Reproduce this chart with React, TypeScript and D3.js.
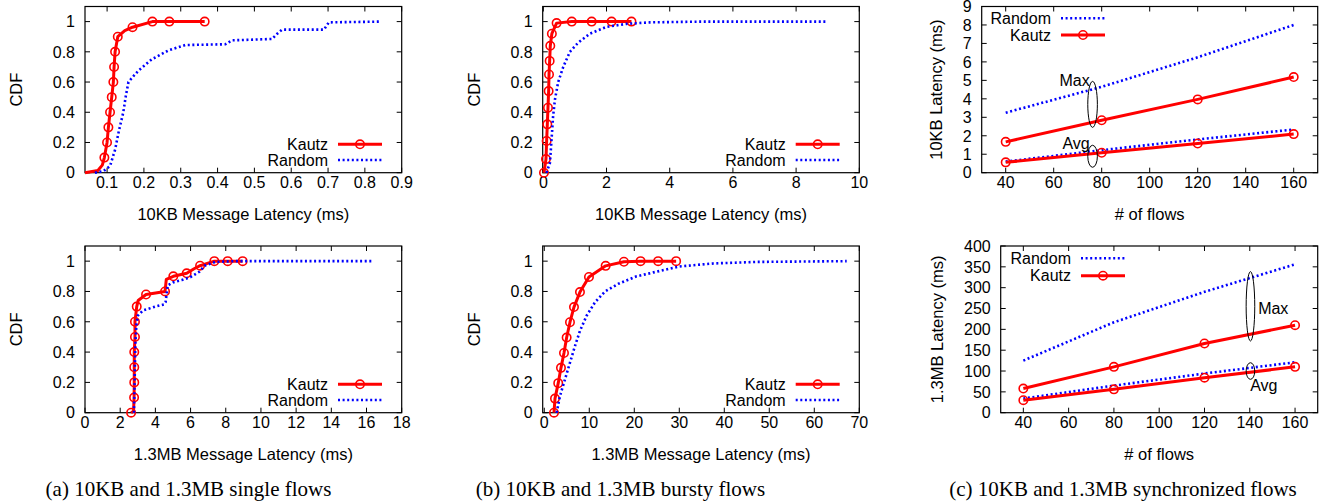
import React from 'react';
import * as d3 from 'd3';

type Pt = [number, number];

// ---------- (a) single flows ----------
// Kautz CDF points carrying a circle marker, plus extra bend points of the line
const singleKautz10KBMarks: Pt[] = [
  [0.0926, 0.1], [0.0999, 0.2], [0.1035, 0.3], [0.108, 0.4], [0.1126, 0.5], [0.117, 0.6],
  [0.119, 0.7], [0.1217, 0.8], [0.129, 0.9], [0.169, 0.963], [0.223, 1], [0.269, 1], [0.365, 1],
];
const singleKautz10KBBends: Pt[] = [[0.04, 0], [0.075, 0.015], [0.087, 0.05], [0.148, 0.94]];
const singleRandom10KB: Pt[] = [
  [0.067, 0], [0.09, 0.01], [0.108, 0.044], [0.122, 0.155], [0.131, 0.265], [0.144, 0.4],
  [0.151, 0.51], [0.158, 0.6], [0.172, 0.64], [0.185, 0.675], [0.221, 0.75], [0.267, 0.81],
  [0.312, 0.845], [0.421, 0.85], [0.439, 0.876], [0.548, 0.885], [0.562, 0.92], [0.575, 0.947],
  [0.689, 0.947], [0.702, 0.995], [0.843, 1],
];
const singleKautz13MBMarks: Pt[] = [
  [2.62, 0], [2.79, 0.1], [2.8, 0.2], [2.8, 0.3], [2.8, 0.4], [2.84, 0.5], [2.84, 0.6],
  [2.94, 0.7], [3.47, 0.78], [4.55, 0.8], [5.02, 0.9], [5.78, 0.92], [6.54, 0.97],
  [7.35, 1], [8.11, 1], [8.96, 1],
];
const singleKautz13MBBends: Pt[] = [[2.76, 0.01], [3.02, 0.74], [4.62, 0.88], [6.2, 0.95]];
const singleRandom13MB: Pt[] = [
  [2.78, 0], [2.82, 0.2], [2.86, 0.45], [2.92, 0.58], [3.0, 0.64], [3.3, 0.675], [4.0, 0.7],
  [4.5, 0.715], [4.58, 0.73], [4.7, 0.84], [5.0, 0.86], [5.5, 0.875], [6.0, 0.895],
  [6.5, 0.93], [6.8, 0.97], [7.4, 0.995], [8.5, 1], [16.3, 1],
];

// ---------- (b) bursty flows ----------
const burstyKautz10KBMarks: Pt[] = [
  [0.02, 0], [0.084, 0.09], [0.105, 0.21], [0.126, 0.32], [0.147, 0.43], [0.168, 0.54],
  [0.18, 0.65], [0.2, 0.74], [0.22, 0.84], [0.27, 0.92], [0.42, 0.99], [0.9, 1],
  [1.53, 1], [2.16, 1], [2.79, 1],
];
const burstyKautz10KBBends: Pt[] = [];
const burstyRandom10KB: Pt[] = [
  [0.1, 0], [0.21, 0.066], [0.26, 0.22], [0.31, 0.376], [0.37, 0.487], [0.47, 0.6],
  [0.63, 0.7], [0.84, 0.8], [1.1, 0.86], [1.47, 0.92], [2.0, 0.965], [2.63, 0.985],
  [3.37, 0.995], [5.0, 1], [8.95, 1],
];
const burstyKautz13MBMarks: Pt[] = [
  [2.16, 0], [2.38, 0.093], [3.1, 0.195], [3.71, 0.296], [4.38, 0.394], [4.97, 0.496],
  [5.71, 0.597], [6.6, 0.697], [7.93, 0.796], [9.93, 0.896], [13.64, 0.969], [17.7, 0.996],
  [21.4, 1], [25.3, 1], [29.3, 1],
];
const burstyKautz13MBBends: Pt[] = [];
const burstyRandom13MB: Pt[] = [
  [2.75, 0], [3.49, 0.11], [4.6, 0.22], [5.71, 0.33], [6.82, 0.44], [7.93, 0.54],
  [9.41, 0.64], [11.3, 0.73], [13.5, 0.8], [16.4, 0.85], [20.5, 0.9], [24.9, 0.93],
  [30.1, 0.965], [37.6, 0.985], [47.2, 0.995], [67.2, 1],
];

// ---------- (c) synchronized flows ----------
const flows = [40, 80, 120, 160];
const syncKautz10KBMax = [1.67, 2.84, 3.97, 5.18];
const syncKautz10KBAvg = [0.56, 1.08, 1.58, 2.09];
const syncRandom10KBMax = [3.25, 4.65, 6.25, 8.0];
const syncRandom10KBAvg = [0.6, 1.22, 1.8, 2.34];
const syncKautz13MBMax = [58, 110, 166, 210];
const syncKautz13MBAvg = [30, 56, 84, 110];
const syncRandom13MBMax = [125, 217, 290, 356];
const syncRandom13MBAvg = [34, 65, 94, 121];

// ---------- ticks / labels ----------
const cdfTicks = [0, 0.2, 0.4, 0.6, 0.8, 1];
const singleTicks10KB = [0.1, 0.2, 0.3, 0.4, 0.5, 0.6, 0.7, 0.8, 0.9];
const singleTicks13MB = [0, 2, 4, 6, 8, 10, 12, 14, 16, 18];
const burstyTicks10KB = [0, 2, 4, 6, 8, 10];
const burstyTicks13MB = [0, 10, 20, 30, 40, 50, 60, 70];
const flowTicks = [40, 60, 80, 100, 120, 140, 160];
const syncTicks10KB = [0, 1, 2, 3, 4, 5, 6, 7, 8, 9];
const syncTicks13MB = [0, 50, 100, 150, 200, 250, 300, 350, 400];
const captions = [
  '(a) 10KB and 1.3MB single flows',
  '(b) 10KB and 1.3MB bursty flows',
  '(c) 10KB and 1.3MB synchronized flows',
];

const SANS = '"Liberation Sans", Arial, Helvetica, sans-serif';
const SERIF = '"Liberation Serif", "Times New Roman", serif';
const RED = '#ff0000';
const BLUE = '#0000ff';
const DOTS = '2 2.6';

const zip = (xs: number[], ys: number[]): Pt[] => xs.map((v, i) => [v, ys[i]] as Pt);
const byXY = (pts: Pt[]) => pts.slice().sort((a, b) => a[0] - b[0] || a[1] - b[1]);

interface KSeries { marks: Pt[]; bends: Pt[] }
interface Note { text: string; tx: number; ty: number; anchor: string; ex: number; ey: number; rx: number; ry: number }

interface PanelProps {
  l: number; r: number; t: number; b: number;
  xDomain: [number, number]; yDomain: [number, number];
  xTicks: number[]; yTicks: number[];
  xLabel: string; yLabel: string; yLabelX: number;
  kautz: KSeries[]; random: Pt[][];
  randomFirst: boolean;
  legendRight: number; legendY: [number, number];
  notes?: Note[];
}

function Panel(p: PanelProps) {
  const x = d3.scaleLinear().domain(p.xDomain).range([p.l, p.r]);
  const y = d3.scaleLinear().domain(p.yDomain).range([p.b, p.t]);
  const line = d3.line<Pt>().x(d => x(d[0])).y(d => y(d[1]));
  const tk = 5;

  const kautzEls = p.kautz.map((s, i) => (
    <g key={'k' + i}>
      <path d={line(byXY([...s.marks, ...s.bends])) || ''} fill="none" stroke={RED} strokeWidth={3} strokeLinejoin="round" />
      {s.marks.map((m, j) => (
        <circle key={j} cx={x(m[0])} cy={y(m[1])} r={4.2} fill="none" stroke={RED} strokeWidth={1.6} />
      ))}
    </g>
  ));
  const randomEls = p.random.map((s, i) => (
    <path key={'r' + i} d={line(s) || ''} fill="none" stroke={BLUE} strokeWidth={2.6} strokeDasharray={DOTS} />
  ));

  const lx0 = p.legendRight + 10;
  const lx1 = p.legendRight + 54;
  const kautzY = p.randomFirst ? p.legendY[1] : p.legendY[0];
  const randomY = p.randomFirst ? p.legendY[0] : p.legendY[1];
  const cx = (p.l + p.r) / 2;
  const cy = (p.t + p.b) / 2;

  return (
    <g fontFamily={SANS} fontSize={16} fill="#000">
      <rect x={p.l} y={p.t} width={p.r - p.l} height={p.b - p.t} fill="none" stroke="#000" strokeWidth={1.2} />
      {p.xTicks.map(v => (
        <g key={'x' + v}>
          <line x1={x(v)} x2={x(v)} y1={p.b} y2={p.b - tk} stroke="#000" />
          <line x1={x(v)} x2={x(v)} y1={p.t} y2={p.t + tk} stroke="#000" />
          <text x={x(v)} y={p.b + 15.6} textAnchor="middle">{String(v)}</text>
        </g>
      ))}
      {p.yTicks.map(v => (
        <g key={'y' + v}>
          <line x1={p.l} x2={p.l + tk} y1={y(v)} y2={y(v)} stroke="#000" />
          <line x1={p.r} x2={p.r - tk} y1={y(v)} y2={y(v)} stroke="#000" />
          <text x={p.l - 10} y={y(v)} dy="0.36em" textAnchor="end">{String(v)}</text>
        </g>
      ))}
      <text x={cx} y={p.b + 47} textAnchor="middle" fontSize={16.5}>{p.xLabel}</text>
      <text transform={`translate(${p.yLabelX},${cy}) rotate(-90)`} dy="0.36em" textAnchor="middle" fontSize={16.5}>{p.yLabel}</text>

      {p.randomFirst ? [randomEls, kautzEls] : [kautzEls, randomEls]}

      {(p.notes || []).map((n, i) => (
        <g key={'n' + i}>
          <ellipse cx={x(n.ex)} cy={y(n.ey)} rx={n.rx} ry={n.ry} fill="none" stroke="#000" strokeWidth={1} />
          <text x={x(n.tx)} y={y(n.ty)} dy="0.36em" textAnchor={n.anchor}>{n.text}</text>
        </g>
      ))}

      <text x={p.legendRight} y={kautzY} dy="0.36em" textAnchor="end">Kautz</text>
      <line x1={lx0} x2={lx1} y1={kautzY} y2={kautzY} stroke={RED} strokeWidth={3} />
      <circle cx={(lx0 + lx1) / 2} cy={kautzY} r={4.2} fill="none" stroke={RED} strokeWidth={1.6} />
      <text x={p.legendRight} y={randomY} dy="0.36em" textAnchor="end">Random</text>
      <line x1={lx0} x2={lx1} y1={randomY} y2={randomY} stroke={BLUE} strokeWidth={2.6} strokeDasharray={DOTS} />
    </g>
  );
}

export default function App() {
  const top = { t: 6.5, b: 172.7 };
  const bot = { t: 246, b: 412.7 };
  const colA = { l: 85, r: 401.7 };
  const colB = { l: 542.7, r: 859.3 };

  return (
    <svg width={1344} height={502} viewBox="0 0 1344 502"
      style={{ position: 'absolute', left: 0, top: 0, background: '#fff' }}>
      <rect width={1344} height={502} fill="#fff" />

      <Panel {...top} {...colA} xDomain={[0.04, 0.9]} yDomain={[0, 1.1]}
        xTicks={singleTicks10KB} yTicks={cdfTicks}
        xLabel="10KB Message Latency (ms)" yLabel="CDF" yLabelX={16.3}
        kautz={[{ marks: singleKautz10KBMarks, bends: singleKautz10KBBends }]}
        random={[singleRandom10KB]} randomFirst={false}
        legendRight={328} legendY={[144.3, 160]} />

      <Panel {...bot} {...colA} xDomain={[0, 18]} yDomain={[0, 1.1]}
        xTicks={singleTicks13MB} yTicks={cdfTicks}
        xLabel="1.3MB Message Latency (ms)" yLabel="CDF" yLabelX={16.3}
        kautz={[{ marks: singleKautz13MBMarks, bends: singleKautz13MBBends }]}
        random={[singleRandom13MB]} randomFirst={false}
        legendRight={328} legendY={[384.3, 400]} />

      <Panel {...top} {...colB} xDomain={[-0.02, 10]} yDomain={[0, 1.1]}
        xTicks={burstyTicks10KB} yTicks={cdfTicks}
        xLabel="10KB Message Latency (ms)" yLabel="CDF" yLabelX={474.5}
        kautz={[{ marks: burstyKautz10KBMarks, bends: burstyKautz10KBBends }]}
        random={[burstyRandom10KB]} randomFirst={false}
        legendRight={785.7} legendY={[144.3, 160]} />

      <Panel {...bot} {...colB} xDomain={[-0.35, 70]} yDomain={[0, 1.1]}
        xTicks={burstyTicks13MB} yTicks={cdfTicks}
        xLabel="1.3MB Message Latency (ms)" yLabel="CDF" yLabelX={474.5}
        kautz={[{ marks: burstyKautz13MBMarks, bends: burstyKautz13MBBends }]}
        random={[burstyRandom13MB]} randomFirst={false}
        legendRight={785.7} legendY={[384.3, 400]} />

      <Panel {...top} l={981.7} r={1317.7} xDomain={[30, 170]} yDomain={[0, 9]}
        xTicks={flowTicks} yTicks={syncTicks10KB}
        xLabel="# of flows" yLabel="10KB Latency (ms)" yLabelX={936}
        kautz={[{ marks: zip(flows, syncKautz10KBMax), bends: [] }, { marks: zip(flows, syncKautz10KBAvg), bends: [] }]}
        random={[zip(flows, syncRandom10KBMax), zip(flows, syncRandom10KBAvg)]} randomFirst={true}
        legendRight={1051} legendY={[18.3, 35]}
        notes={[
          { text: 'Max', tx: 75, ty: 5.0, anchor: 'end', ex: 76.2, ey: 3.7, rx: 4.8, ry: 23 },
          { text: 'Avg', tx: 75, ty: 1.6, anchor: 'end', ex: 76.2, ey: 0.89, rx: 4.8, ry: 11 },
        ]} />

      <Panel {...bot} l={1000.7} r={1317.7} xDomain={[30, 170]} yDomain={[0, 400]}
        xTicks={flowTicks} yTicks={syncTicks13MB}
        xLabel="# of flows" yLabel="1.3MB Latency (ms)" yLabelX={936.7}
        kautz={[{ marks: zip(flows, syncKautz13MBMax), bends: [] }, { marks: zip(flows, syncKautz13MBAvg), bends: [] }]}
        random={[zip(flows, syncRandom13MBMax), zip(flows, syncRandom13MBAvg)]} randomFirst={true}
        legendRight={1071} legendY={[258.3, 275.7]}
        notes={[
          { text: 'Max', tx: 143.7, ty: 250.5, anchor: 'start', ex: 140.3, ey: 255.3, rx: 4.3, ry: 34.7 },
          { text: 'Avg', tx: 140.2, ty: 66.5, anchor: 'start', ex: 140.3, ey: 100, rx: 4.3, ry: 8.3 },
        ]} />

      {captions.map((c, i) => (
        <text key={c} x={[188.5, 620.5, 1123][i]} y={495.5} textAnchor="middle"
          fontFamily={SERIF} fontSize={21}>{c}</text>
      ))}
    </svg>
  );
}
